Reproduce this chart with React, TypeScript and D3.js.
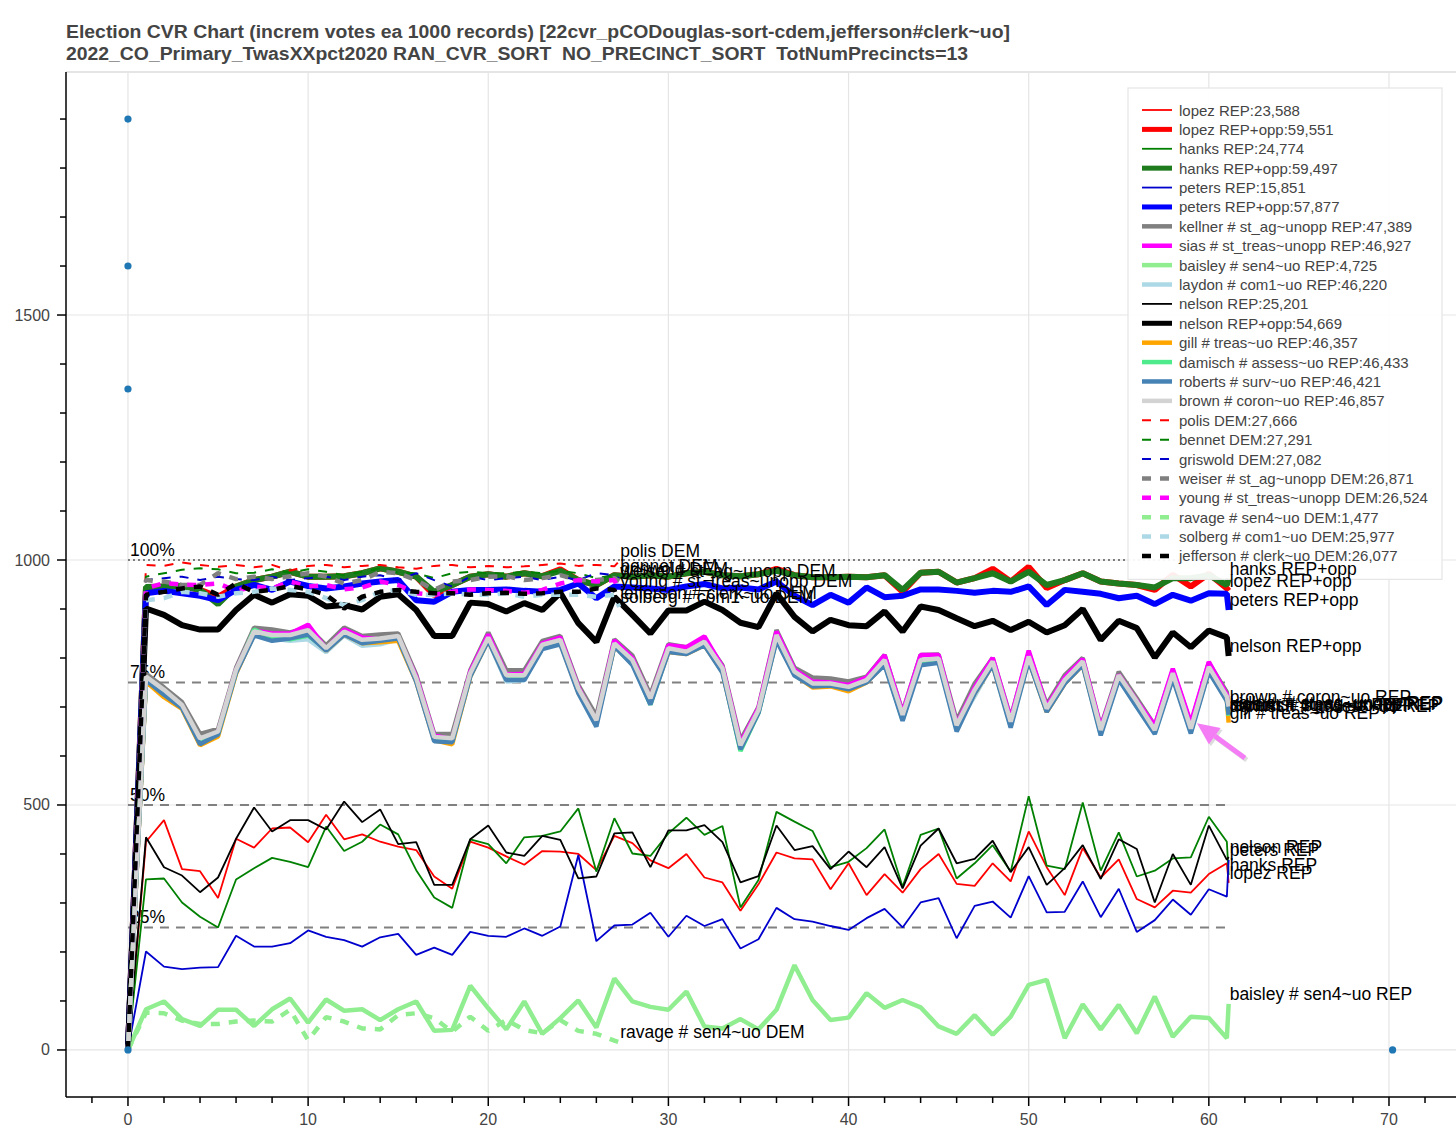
import React from "react";
import * as d3 from "d3";

// batch index (each batch = 1000 records); the last batch is partial
const repX = d3.range(62).concat([61.1]);
const demX = d3.range(28).concat([27.27]);

// REP values
const lopezRep = [0, 425, 469, 369, 365, 310, 431, 413, 452, 454, 424, 480, 430, 440, 425, 415, 408, 354, 329, 425, 413, 395, 378, 406, 405, 400, 367, 437, 422, 387, 371, 400, 352, 342, 284, 338, 403, 391, 389, 328, 381, 316, 359, 321, 369, 400, 339, 335, 381, 344, 446, 373, 316, 412, 352, 389, 308, 291, 325, 321, 359, 381, 341];
const lopezOpp = [0, 942, 946, 947, 939, 925, 946, 959, 966, 976, 966, 966, 967, 973, 983, 976, 966, 928, 949, 966, 971, 966, 973, 967, 981, 959, 949, 969, 966, 969, 966, 973, 976, 969, 967, 971, 982, 969, 965, 965, 966, 965, 969, 935, 974, 976, 954, 963, 982, 956, 986, 943, 959, 973, 956, 952, 949, 939, 970, 946, 972, 942, 937];
const hanksRep = [0, 348, 350, 301, 272, 250, 348, 371, 392, 384, 373, 456, 406, 425, 460, 440, 367, 311, 290, 430, 420, 381, 434, 437, 446, 493, 364, 473, 401, 396, 442, 474, 439, 457, 291, 347, 486, 466, 447, 373, 384, 412, 450, 333, 439, 452, 350, 381, 418, 364, 518, 376, 369, 505, 366, 444, 354, 366, 391, 393, 476, 425, 357];
const hanksOpp = [0, 945, 946, 947, 939, 910, 946, 959, 966, 976, 966, 966, 967, 973, 983, 976, 966, 935, 949, 966, 971, 966, 973, 967, 978, 959, 949, 969, 966, 969, 966, 973, 976, 969, 967, 971, 978, 969, 965, 965, 966, 965, 969, 939, 974, 976, 954, 963, 973, 956, 976, 949, 959, 973, 956, 952, 949, 944, 963, 963, 969, 949, 962];
const petersRep = [0, 201, 170, 165, 168, 169, 233, 211, 211, 218, 244, 231, 224, 211, 230, 237, 194, 209, 194, 241, 233, 231, 248, 233, 252, 398, 222, 254, 256, 280, 231, 274, 253, 267, 207, 226, 290, 267, 262, 253, 245, 269, 288, 250, 301, 310, 228, 294, 303, 270, 355, 281, 282, 344, 271, 329, 241, 265, 307, 276, 328, 313, 388];
const petersOpp = [0, 932, 937, 932, 927, 918, 939, 949, 939, 956, 947, 942, 946, 952, 956, 959, 918, 915, 935, 939, 939, 940, 937, 935, 939, 952, 922, 946, 944, 942, 939, 946, 951, 942, 944, 940, 956, 927, 908, 929, 913, 944, 924, 927, 940, 940, 937, 933, 937, 935, 946, 908, 939, 935, 931, 922, 927, 910, 929, 917, 932, 931, 898];
const kellner = [0, 768, 740, 710, 645, 655, 780, 862, 858, 852, 862, 826, 862, 845, 848, 850, 766, 645, 645, 775, 852, 775, 775, 835, 845, 745, 682, 838, 805, 725, 828, 822, 838, 785, 632, 700, 857, 780, 760, 758, 752, 762, 806, 690, 806, 807, 672, 748, 800, 678, 810, 705, 765, 800, 660, 772, 718, 662, 775, 665, 790, 730, 688];
const sias = [0, 760, 732, 702, 630, 648, 775, 856, 850, 850, 868, 818, 858, 842, 838, 842, 762, 642, 634, 772, 848, 766, 768, 830, 842, 740, 670, 836, 800, 716, 826, 822, 844, 782, 626, 698, 854, 776, 752, 750, 745, 760, 806, 688, 806, 806, 665, 740, 800, 675, 815, 700, 760, 798, 658, 766, 712, 662, 778, 668, 792, 725, 686];
const baisley = [0, 83, 99, 63, 49, 82, 82, 49, 83, 105, 56, 103, 80, 83, 61, 83, 99, 39, 41, 131, 85, 42, 99, 33, 65, 101, 46, 146, 99, 88, 82, 119, 48, 44, 63, 42, 82, 173, 102, 61, 66, 116, 86, 102, 87, 48, 33, 71, 31, 68, 133, 143, 24, 93, 42, 92, 34, 109, 27, 68, 65, 24, 94];
const laydon = [0, 758, 730, 700, 630, 646, 770, 850, 840, 835, 838, 812, 846, 825, 828, 838, 756, 634, 630, 766, 835, 752, 755, 822, 832, 735, 668, 826, 790, 712, 815, 810, 826, 774, 618, 690, 840, 768, 744, 746, 738, 752, 790, 680, 790, 796, 660, 722, 788, 666, 798, 694, 752, 788, 650, 762, 708, 650, 764, 652, 778, 718, 684];
const nelsonRep = [0, 434, 373, 356, 322, 352, 431, 495, 446, 469, 469, 450, 507, 465, 491, 420, 424, 337, 337, 430, 458, 403, 396, 437, 429, 350, 354, 442, 444, 373, 448, 448, 459, 424, 342, 355, 458, 408, 416, 369, 405, 373, 414, 330, 417, 452, 381, 390, 427, 363, 414, 337, 371, 418, 349, 430, 410, 301, 400, 337, 458, 388, 394];
const nelsonOpp = [0, 901, 888, 867, 858, 858, 898, 929, 913, 930, 927, 905, 908, 899, 925, 930, 898, 845, 845, 913, 910, 895, 912, 898, 933, 871, 833, 925, 888, 850, 897, 897, 915, 898, 872, 863, 932, 884, 854, 878, 867, 865, 895, 854, 905, 898, 881, 865, 876, 857, 874, 852, 867, 900, 837, 876, 861, 801, 852, 822, 856, 842, 804];
const gill = [0, 752, 720, 696, 622, 640, 768, 848, 838, 845, 850, 815, 848, 830, 832, 835, 752, 632, 624, 762, 836, 758, 760, 820, 830, 730, 666, 824, 788, 710, 812, 808, 826, 772, 615, 690, 838, 766, 740, 742, 732, 750, 788, 678, 790, 792, 658, 728, 786, 665, 796, 690, 748, 786, 648, 758, 704, 650, 760, 652, 774, 714, 668];
const damisch = [0, 758, 728, 700, 628, 645, 772, 858, 842, 838, 846, 818, 850, 833, 838, 842, 755, 636, 630, 765, 838, 762, 763, 822, 832, 735, 668, 826, 790, 705, 815, 810, 830, 775, 610, 688, 840, 770, 744, 745, 738, 752, 790, 674, 792, 794, 655, 732, 788, 662, 798, 693, 750, 790, 645, 760, 706, 648, 762, 650, 776, 716, 682];
const roberts = [0, 755, 725, 698, 624, 644, 770, 846, 835, 840, 848, 815, 848, 830, 835, 840, 752, 630, 628, 762, 836, 755, 755, 818, 828, 728, 660, 824, 786, 705, 812, 808, 826, 770, 614, 688, 836, 764, 742, 744, 736, 750, 786, 672, 785, 790, 650, 728, 786, 658, 795, 690, 748, 786, 642, 756, 700, 645, 758, 646, 772, 712, 684];
const brown = [0, 762, 735, 704, 636, 650, 776, 854, 847, 847, 857, 820, 854, 837, 840, 845, 759, 639, 636, 769, 842, 765, 765, 827, 837, 738, 673, 830, 796, 718, 820, 813, 833, 779, 622, 694, 847, 772, 748, 748, 741, 755, 796, 684, 796, 799, 663, 735, 793, 670, 803, 697, 755, 793, 653, 765, 711, 653, 769, 656, 782, 721, 701];

// DEM values
const polis = [0, 990, 988, 995, 990, 986, 990, 985, 990, 978, 988, 990, 985, 988, 990, 985, 982, 988, 990, 985, 988, 985, 987, 990, 993, 988, 990, 987, 998];
const bennet = [0, 966, 973, 980, 983, 981, 973, 974, 981, 974, 981, 976, 969, 976, 983, 974, 973, 963, 973, 976, 973, 973, 976, 973, 978, 973, 963, 969, 967];
const griswold = [0, 959, 963, 966, 959, 966, 961, 959, 966, 959, 963, 966, 959, 966, 969, 959, 973, 959, 946, 966, 959, 963, 966, 959, 966, 959, 973, 969, 962];
const weiser = [0, 959, 956, 949, 949, 973, 961, 966, 961, 967, 973, 966, 952, 959, 976, 973, 959, 939, 956, 959, 966, 967, 959, 963, 969, 959, 959, 963, 957];
const young = [0, 942, 953, 950, 949, 952, 937, 946, 942, 956, 946, 949, 940, 944, 956, 949, 932, 929, 935, 940, 939, 937, 933, 939, 952, 959, 956, 959, 937];
const ravage = [0, 76, 75, 60, 53, 53, 58, 60, 58, 82, 20, 67, 58, 44, 42, 71, 75, 65, 37, 68, 39, 61, 41, 34, 61, 39, 33, 19, 16];
const solberg = [0, 918, 922, 935, 932, 925, 932, 935, 942, 939, 935, 922, 908, 918, 935, 939, 929, 929, 932, 929, 929, 932, 925, 929, 929, 929, 925, 929, 904];
const jefferson = [0, 929, 935, 942, 946, 929, 952, 935, 939, 947, 940, 929, 901, 925, 935, 939, 935, 932, 932, 929, 932, 933, 931, 932, 935, 935, 942, 939, 912];

const pctLevels = [1000, 750, 500, 250];
const pctLabels = ["100%", "75%", "50%", "25%"];

const dotX = [0, 0, 0, 0, 70.2];
const dotY = [1900, 1600, 1349, 0, 0];

const titleLines = [
  "Election CVR Chart (increm votes ea 1000 records) [22cvr_pCODouglas-sort-cdem,jefferson#clerk~uo]",
  "2022_CO_Primary_TwasXXpct2020 RAN_CVR_SORT  NO_PRECINCT_SORT  TotNumPrecincts=13",
];

interface Series {
  label: string;
  total: string;
  xs: number[];
  values: number[];
  color: string;
  width: number;
  dashed?: boolean;
}

const series: Series[] = [
  { label: "lopez REP", total: "23,588", xs: repX, values: lopezRep, color: "#ff0000", width: 1.8 },
  { label: "lopez REP+opp", total: "59,551", xs: repX, values: lopezOpp, color: "#ff0000", width: 6 },
  { label: "hanks REP", total: "24,774", xs: repX, values: hanksRep, color: "#008000", width: 1.8 },
  { label: "hanks REP+opp", total: "59,497", xs: repX, values: hanksOpp, color: "#1e7b1e", width: 6 },
  { label: "peters REP", total: "15,851", xs: repX, values: petersRep, color: "#0000cd", width: 1.8 },
  { label: "peters REP+opp", total: "57,877", xs: repX, values: petersOpp, color: "#0000ff", width: 6 },
  { label: "kellner # st_ag~unopp REP", total: "47,389", xs: repX, values: kellner, color: "#808080", width: 4.5 },
  { label: "sias # st_treas~unopp REP", total: "46,927", xs: repX, values: sias, color: "#ff00ff", width: 4.5 },
  { label: "baisley # sen4~uo REP", total: "4,725", xs: repX, values: baisley, color: "#90ee90", width: 4.5 },
  { label: "laydon # com1~uo REP", total: "46,220", xs: repX, values: laydon, color: "#add8e6", width: 4.5 },
  { label: "nelson REP", total: "25,201", xs: repX, values: nelsonRep, color: "#000000", width: 1.8 },
  { label: "nelson REP+opp", total: "54,669", xs: repX, values: nelsonOpp, color: "#000000", width: 6 },
  { label: "gill # treas~uo REP", total: "46,357", xs: repX, values: gill, color: "#ffa500", width: 4.5 },
  { label: "damisch # assess~uo REP", total: "46,433", xs: repX, values: damisch, color: "#4eea8c", width: 4.5 },
  { label: "roberts # surv~uo REP", total: "46,421", xs: repX, values: roberts, color: "#4682b4", width: 4.5 },
  { label: "brown # coron~uo REP", total: "46,857", xs: repX, values: brown, color: "#d3d3d3", width: 4.5 },
  { label: "polis DEM", total: "27,666", xs: demX, values: polis, color: "#ff0000", width: 2, dashed: true },
  { label: "bennet DEM", total: "27,291", xs: demX, values: bennet, color: "#008000", width: 2, dashed: true },
  { label: "griswold DEM", total: "27,082", xs: demX, values: griswold, color: "#0000cd", width: 2, dashed: true },
  { label: "weiser # st_ag~unopp DEM", total: "26,871", xs: demX, values: weiser, color: "#808080", width: 4.5, dashed: true },
  { label: "young # st_treas~unopp DEM", total: "26,524", xs: demX, values: young, color: "#ff00ff", width: 4.5, dashed: true },
  { label: "ravage # sen4~uo DEM", total: "1,477", xs: demX, values: ravage, color: "#90ee90", width: 4.5, dashed: true },
  { label: "solberg # com1~uo DEM", total: "25,977", xs: demX, values: solberg, color: "#add8e6", width: 4.5, dashed: true },
  { label: "jefferson # clerk~uo DEM", total: "26,077", xs: demX, values: jefferson, color: "#000000", width: 4.5, dashed: true },
];

const W = 1456;
const H = 1132;
const left = 66;
const top = 72;
const bottom = 1097;
const font = "'Liberation Sans', Arial, Helvetica, sans-serif";

const App: React.FC = () => {
  const x = d3.scaleLinear().domain([-3.44, 73.72]).range([left, W]);
  const y = d3.scaleLinear().domain([-96, 1996]).range([bottom, top]);

  const xMajor = x.ticks(8);
  const xMinor = d3.range(-2, 74, 2).filter((v) => v % 10 !== 0);
  const yMajor = y.ticks(4);
  const yMinor = d3.range(100, 2000, 100).filter((v) => v % 500 !== 0);

  const line = d3
    .line<[number, number]>()
    .x((d) => x(d[0]))
    .y((d) => y(d[1]));

  const pts = (s: Series) => s.xs.map((v, i) => [v, s.values[i]] as [number, number]);
  const endX = repX[repX.length - 1];

  // legend layout
  const legX = 1128;
  const legY = 88;
  const legW = 314;
  const rowH = 19.39;
  const legH = 22 + rowH * series.length + 4;

  // annotation arrow (data coords), tail -> tip
  const tail: [number, number] = [62.0, 596];
  const tip: [number, number] = [59.34, 667];
  const tx = x(tail[0]), ty = y(tail[1]), hx = x(tip[0]), hy = y(tip[1]);
  const len = Math.hypot(hx - tx, hy - ty);
  const ux = (hx - tx) / len, uy = (hy - ty) / len;
  const bx = hx - ux * 22, by = hy - uy * 22;
  const head = `${hx},${hy} ${bx - uy * 10},${by + ux * 10} ${bx + uy * 10},${by - ux * 10}`;

  return (
    <>
      <style>{"body{margin:0;overflow:hidden}"}</style>
      <svg width={W} height={H} style={{ display: "block", background: "#fff", fontFamily: font }}>
        <defs>
          <clipPath id="plot">
            <rect x={left} y={top} width={W - left} height={bottom - top} />
          </clipPath>
        </defs>

        {/* title */}
        {titleLines.map((t, i) => (
          <text
            key={t}
            x={66}
            y={38 + i * 21.5}
            fontSize={17.5}
            fontWeight="bold"
            fill="#444"
            textLength={i === 0 ? 944 : 902}
            lengthAdjust="spacingAndGlyphs"
            style={{ whiteSpace: "pre" }}
          >
            {t}
          </text>
        ))}

        {/* grid */}
        <g stroke="#e5e5e5" strokeWidth={1.2}>
          {xMajor.map((v) => (
            <line key={"gx" + v} x1={x(v)} x2={x(v)} y1={top} y2={bottom} />
          ))}
          {yMajor.map((v) => (
            <line key={"gy" + v} x1={left} x2={W} y1={y(v)} y2={y(v)} />
          ))}
          <line x1={left} x2={W} y1={top} y2={top} strokeWidth={2} />
        </g>

        <g clipPath="url(#plot)">
          {/* percentage guides */}
          {pctLevels.map((v, i) => (
            <line
              key={"p" + v}
              x1={x(0)}
              x2={x(endX)}
              y1={y(v)}
              y2={y(v)}
              stroke={i === 0 ? "#555" : "#808080"}
              strokeWidth={i === 0 ? 1.5 : 2}
              strokeDasharray={i === 0 ? "2 3" : "9 7"}
            />
          ))}
          {pctLevels.map((v, i) => (
            <text key={"pl" + v} x={x(0) + 2} y={y(v) - 4} fontSize={17.5} fill="#000">
              {pctLabels[i]}
            </text>
          ))}

          {/* series */}
          {series.map((s) => (
            <path
              key={s.label}
              d={line(pts(s)) || ""}
              fill="none"
              stroke={s.color}
              strokeWidth={s.width}
              strokeDasharray={s.dashed ? "9 9" : undefined}
              strokeLinejoin="bevel"
            />
          ))}

          {dotX.map((v, i) => (
            <circle key={"d" + i} cx={x(v)} cy={y(dotY[i])} r={3.6} fill="#1f77b4" />
          ))}
        </g>

        {/* axes */}
        <g stroke="#000" strokeWidth={1.5}>
          <line x1={left} x2={left} y1={top} y2={bottom} />
          <line x1={left} x2={W} y1={bottom} y2={bottom} />
          {yMajor.map((v) => (
            <line key={"ty" + v} x1={left - 9} x2={left} y1={y(v)} y2={y(v)} />
          ))}
          {yMinor.map((v) => (
            <line key={"tym" + v} x1={left - 6} x2={left} y1={y(v)} y2={y(v)} />
          ))}
          {xMajor.map((v) => (
            <line key={"tx" + v} x1={x(v)} x2={x(v)} y1={bottom} y2={bottom + 9} />
          ))}
          {xMinor.map((v) => (
            <line key={"txm" + v} x1={x(v)} x2={x(v)} y1={bottom} y2={bottom + 6} />
          ))}
        </g>
        <g fontSize={16} fill="#444">
          {yMajor.map((v) => (
            <text key={"ly" + v} x={50} y={y(v)} textAnchor="end" dominantBaseline="central">
              {v}
            </text>
          ))}
          {xMajor.map((v) => (
            <text key={"lx" + v} x={x(v)} y={1119} textAnchor="middle" dominantBaseline="central">
              {v}
            </text>
          ))}
        </g>

        {/* legend */}
        <g>
          <rect x={legX} y={legY} width={legW} height={legH} fill="#fff" fillOpacity={0.93} stroke="#e5e5e5" strokeWidth={1.2} />
          {series.map((s, i) => {
            const cy = legY + 22 + i * rowH;
            return (
              <g key={"lg" + s.label}>
                <line
                  x1={legX + 14}
                  x2={legX + 44}
                  y1={cy}
                  y2={cy}
                  stroke={s.color}
                  strokeWidth={Math.min(s.width, 5)}
                  strokeDasharray={s.dashed ? "9 9" : undefined}
                />
                <text x={legX + 51} y={cy} fontSize={15} fill="#444" dominantBaseline="central">
                  {`${s.label}:${s.total}`}
                </text>
              </g>
            );
          })}
        </g>

        {/* end-of-line labels */}
        <g fontSize={17.5} fill="#000">
          {series.map((s) => (
            <text key={"el" + s.label} x={x(s.xs[s.xs.length - 1]) + 1} y={y(s.values[s.values.length - 1]) - 4}>
              {s.label}
            </text>
          ))}
        </g>

        {/* pointer arrow */}
        <g transform="translate(2,2)" opacity={0.25}>
          <line x1={tx} y1={ty} x2={bx} y2={by} stroke="#777" strokeWidth={5} />
          <polygon points={head} fill="#777" />
        </g>
        <line x1={tx} y1={ty} x2={bx} y2={by} stroke="#f47cf4" strokeWidth={5} />
        <polygon points={head} fill="#f47cf4" />
      </svg>
    </>
  );
};

export default App;
